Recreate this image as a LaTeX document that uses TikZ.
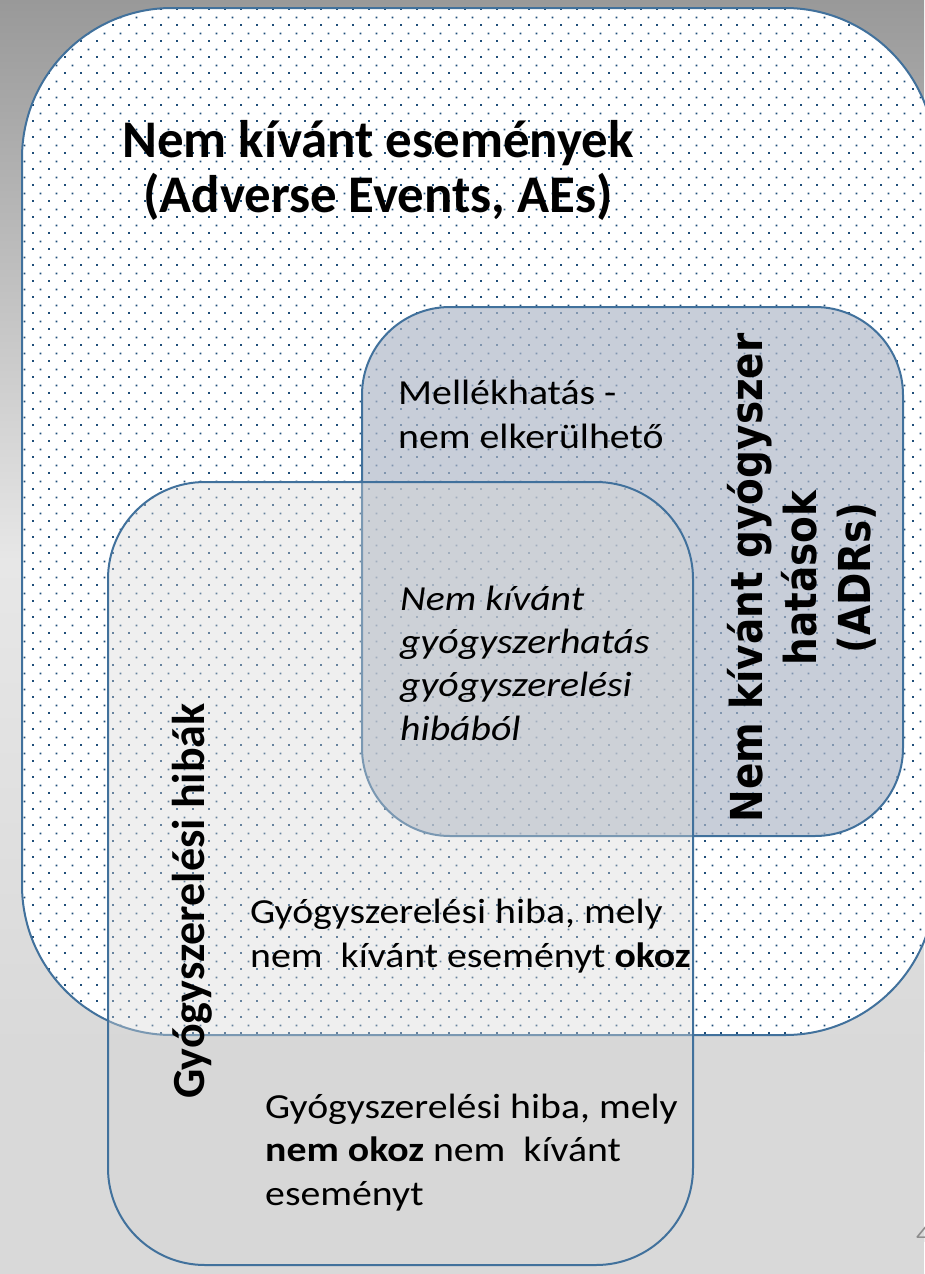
\documentclass[tikz,border=0pt]{standalone}
\usepackage{fontspec}
\setmainfont{Carlito}[FakeStretch=1.13]
\newfontfamily\titlefont{Carlito}
\newfontfamily\adrfont{DejaVu Sans}[FakeStretch=0.886]
\usetikzlibrary{patterns}
\pgfdeclarepatternformonly{stagdots}{\pgfpointorigin}{\pgfpoint{16pt}{16pt}}{\pgfpoint{16pt}{16pt}}{%
  \pgfpathrectangle{\pgfpoint{0pt}{0pt}}{\pgfpoint{2pt}{2pt}}%
  \pgfpathrectangle{\pgfpoint{8pt}{8pt}}{\pgfpoint{2pt}{2pt}}%
  \pgfusepath{fill}}
\definecolor{edge}{HTML}{41719C}
\definecolor{dotc}{HTML}{1F4E79}
\definecolor{adrfill}{HTML}{AEB7C8}
\definecolor{errfill}{HTML}{D6D6D6}
\definecolor{bgA}{HTML}{999999}
\definecolor{bgB}{HTML}{E7E7E7}
\definecolor{bgC}{HTML}{D9D9D9}
\definecolor{pnum}{HTML}{8C8C8C}
\tikzset{
  border/.style={draw=edge, line width=2pt},
  body/.style={align=left, inner sep=0pt, text=black, font=\fontsize{35.2pt}{43.3pt}\selectfont},
  bodyit/.style={body, font=\fontsize{35.2pt}{43.3pt}\selectfont\itshape},
  titlef/.style={align=center, inner sep=0pt, text=black, font=\titlefont\bfseries\fontsize{52.9pt}{55pt}\selectfont},
  errlabf/.style={inner sep=0pt, text=black, rotate=90, font=\titlefont\bfseries\fontsize{46pt}{55pt}\selectfont},
  adrlabf/.style={align=center, inner sep=0pt, text=black, rotate=90, font=\adrfont\bfseries\fontsize{44pt}{54pt}\selectfont}
}
\begin{document}
\begin{tikzpicture}[x=1pt,y=-1pt]
\useasboundingbox (0,0) rectangle (924,1274);
% background
\shade[top color=bgA, bottom color=bgB] (0,0) rectangle (924,561);
\shade[top color=bgB, bottom color=bgC] (0,560) rectangle (924,1051);
\fill[bgC] (0,1050) rectangle (924,1274);
% Adverse events set
\fill[white, rounded corners=150pt] (22,8) rectangle (935,1035);
\fill[pattern=stagdots, pattern color=dotc, rounded corners=150pt] (22,8) rectangle (935,1035);
\draw[border, rounded corners=150pt] (22,8) rectangle (935,1035);
% ADR set
\fill[adrfill, fill opacity=0.68, rounded corners=88pt] (362,307) rectangle (903,836);
\draw[border, rounded corners=88pt] (362,307) rectangle (903,836);
% medication error set
\fill[errfill, fill opacity=0.39, rounded corners=97pt] (108,482) rectangle (693,1265);
\draw[border, rounded corners=97pt] (108,482) rectangle (693,1265);
% texts (base anchor = baseline of the last line)
\node[titlef, anchor=base] (title) at (378,212) {Nem kívánt események\\(Adverse Events, AEs)};
\node[body, anchor=base west] (mell) at (398,448) {Mellékhatás -\\nem elkerülhető};
\node[bodyit, anchor=base west] (ital) at (400,740) {Nem kívánt\\gyógyszerhatás\\gyógyszerelési\\hibából};
\node[body, anchor=base west] (okoz) at (250,967) {Gyógyszerelési hiba, mely\\nem~~kívánt eseményt \textbf{okoz}};
\node[body, anchor=base west] (nemokoz) at (265,1205) {Gyógyszerelési hiba, mely\\\textbf{nem okoz} nem~~kívánt\\eseményt};
\node[errlabf, anchor=base] (errlab) at (204,901) {Gyógyszerelési hibák};
\node[adrlabf, anchor=base] (adrlab) at (870,578) {Nem kívánt gyógyszer\\hatások\\(ADRs)};
\node[anchor=base west, inner sep=0pt, text=pnum, font=\fontsize{24pt}{28pt}\selectfont] (pagenum) at (916,1242) {4};
\end{tikzpicture}
\end{document}
